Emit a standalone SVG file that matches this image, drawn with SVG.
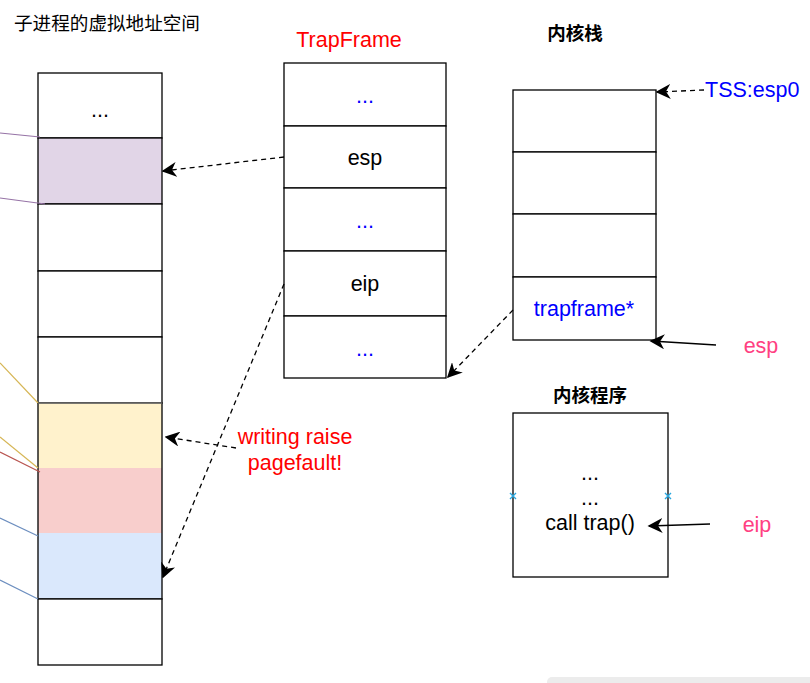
<svg xmlns="http://www.w3.org/2000/svg" width="810" height="683" viewBox="0 0 810 683">
<style>
text{font-family:"Liberation Sans","Noto Sans CJK SC",sans-serif;}
.cell{stroke:#000;stroke-width:1.3;}
.t{font-size:21.5px;text-anchor:middle;fill:#000;}
.blue{fill:#0000ff;}
.pink{fill:#ff4081;}
.red{fill:#ff0000;}
.title{font-size:18.5px;font-weight:bold;text-anchor:middle;fill:#000;}
.dash{fill:none;stroke:#000;stroke-width:1.3;stroke-dasharray:5,4;}
.solid{fill:none;stroke:#000;stroke-width:1.3;}
</style>
<defs>
<marker id="ah" viewBox="0 0 10 10" refX="9" refY="5" markerWidth="15" markerHeight="15" markerUnits="userSpaceOnUse" orient="auto">
<path d="M0,0 L10,5 L0,10 L3,5 Z" fill="#000"/>
</marker>
</defs>
<rect width="810" height="683" fill="#fff"/>
<g id="vspace">
<text x="14" y="30" style="font-size:18.6px" fill="#000">子进程的虚拟地址空间</text>
<rect class="cell" x="38" y="73" width="124" height="65" fill="#fff"/>
<text class="t" x="100" y="117">...</text>
<rect class="cell" x="38" y="138" width="124" height="66" fill="#e1d5e7"/>
<rect class="cell" x="38" y="204" width="124" height="67" fill="#fff"/>
<rect class="cell" x="38" y="271" width="124" height="66" fill="#fff"/>
<rect class="cell" x="38" y="337" width="124" height="66" fill="#fff"/>
<rect x="38" y="403" width="124" height="65" fill="#fff2cc"/>
<rect x="38" y="468" width="124" height="65" fill="#f8cecc"/>
<rect x="38" y="533" width="124" height="66" fill="#dae8fc"/>
<rect x="38" y="403" width="124" height="196" fill="none" stroke="#000" stroke-width="1.3"/>
<line x1="38" y1="403" x2="162" y2="403" stroke="#999" stroke-width="1"/>
<line x1="38" y1="599" x2="162" y2="599" stroke="#555" stroke-width="1"/>
<rect class="cell" x="38" y="599" width="124" height="66" fill="#fff"/>
</g>
<g id="side-lines" stroke-width="1.2" fill="none">
<line x1="0" y1="133" x2="40" y2="137" stroke="#9673a6"/>
<line x1="0" y1="198" x2="45" y2="204" stroke="#9673a6"/>
<line x1="0" y1="363" x2="38" y2="403" stroke="#d6b656"/>
<line x1="0" y1="437" x2="38" y2="468" stroke="#d6b656"/>
<line x1="0" y1="452" x2="40" y2="472" stroke="#b85450"/>
<line x1="0" y1="518" x2="38" y2="536" stroke="#6c8ebf"/>
<line x1="0" y1="580" x2="38" y2="599" stroke="#6c8ebf"/>
</g>
<g id="trapframe">
<text x="349" y="47" style="font-size:21.5px" text-anchor="middle" class="red">TrapFrame</text>
<rect class="cell" x="284" y="63" width="162" height="63" fill="#fff"/>
<text class="t blue" x="365" y="103">...</text>
<rect class="cell" x="284" y="126" width="162" height="62" fill="#fff"/>
<text class="t" x="365" y="165">esp</text>
<rect class="cell" x="284" y="188" width="162" height="63" fill="#fff"/>
<text class="t blue" x="365" y="228">...</text>
<rect class="cell" x="284" y="251" width="162" height="65" fill="#fff"/>
<text class="t" x="365" y="291">eip</text>
<rect class="cell" x="284" y="316" width="162" height="62" fill="#fff"/>
<text class="t blue" x="365" y="356">...</text>
</g>
<g id="kstack">
<text class="title" x="575" y="40">内核栈</text>
<rect class="cell" x="513" y="90" width="143" height="62" fill="#fff"/>
<rect class="cell" x="513" y="152" width="143" height="62" fill="#fff"/>
<rect class="cell" x="513" y="214" width="143" height="63" fill="#fff"/>
<rect class="cell" x="513" y="277" width="143" height="63" fill="#fff"/>
<text class="t blue" x="584" y="316">trapframe*</text>
</g>
<g id="kprog">
<text class="title" x="590" y="402">内核程序</text>
<rect class="cell" x="513" y="413" width="155" height="164" fill="#fff"/>
<text class="t" x="590" y="480">...</text>
<text class="t" x="590" y="505">...</text>
<text class="t" x="590" y="530">call trap()</text>
<g stroke="#29a8e0" stroke-width="1.4">
<path d="M510,493 l6,6 M516,493 l-6,6"/>
<path d="M665,493 l6,6 M671,493 l-6,6"/>
</g>
</g>
<g id="labels">
<text x="705" y="97" style="font-size:21.5px" class="blue">TSS:esp0</text>
<text x="761" y="353" style="font-size:21.5px" text-anchor="middle" class="pink">esp</text>
<text x="757" y="532" style="font-size:21.5px" text-anchor="middle" class="pink">eip</text>
<text x="295" y="444" style="font-size:21.5px" text-anchor="middle" class="red">writing raise</text>
<text x="295" y="470" style="font-size:21.5px" text-anchor="middle" class="red">pagefault!</text>
</g>
<g id="connectors">
<line class="dash" x1="284" y1="157" x2="163" y2="171" marker-end="url(#ah)"/>
<line class="dash" x1="284" y1="284" x2="163" y2="577" marker-end="url(#ah)"/>
<line class="dash" x1="513" y1="310" x2="448" y2="377" marker-end="url(#ah)"/>
<line class="dash" x1="236" y1="448" x2="166" y2="437" marker-end="url(#ah)"/>
<line class="dash" x1="704" y1="90" x2="657" y2="92" marker-end="url(#ah)"/>
<line class="solid" x1="716" y1="345" x2="651" y2="341" marker-end="url(#ah)"/>
<line class="solid" x1="710" y1="524" x2="649" y2="526" marker-end="url(#ah)"/>
</g>
<rect x="547" y="677" width="270" height="10" rx="5" fill="#ececec"/>
</svg>
